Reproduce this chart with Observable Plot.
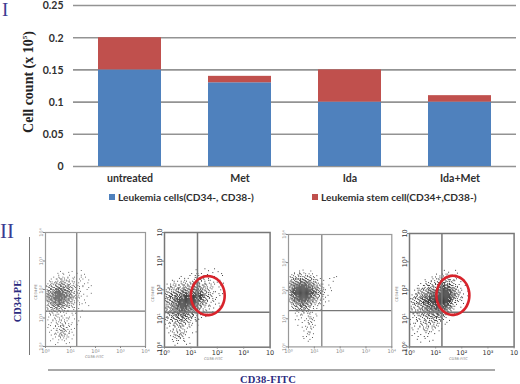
<!DOCTYPE html>
<html>
<head>
<meta charset="utf-8">
<script src="https://cdn.jsdelivr.net/npm/d3@7"></script>
<script src="https://cdn.jsdelivr.net/npm/@observablehq/plot@0.6"></script>
<style>
html,body{margin:0;padding:0;background:#fff}
#page{position:relative;width:520px;height:384px;overflow:hidden;background:#fff}
#page>*{position:absolute}
.t{white-space:nowrap;line-height:1}
.serif{font-family:"Liberation Serif",serif;color:#2b2b80}
.sans{font-family:Lato,"Open Sans",sans-serif;font-weight:700;color:#2f2f2f;font-size:10.2px}
.tiny{font-family:"DejaVu Sans",sans-serif;font-size:3.6px;color:#777}
</style>
</head>
<body>
<div id="page"></div>
<script>
const categories = ["untreated", "Met", "Ida", "Ida+Met"];
const leukemiaCells = [0.15, 0.13, 0.1, 0.1];
const stemCells = [0.05, 0.01, 0.05, 0.01];
const seriesNames = ["Leukemia cells(CD34-, CD38-)", "Leukemia stem cell(CD34+,CD38-)"];
const seriesColors = ["#4f81bd", "#c0504d"];
const yTicks = [0, 0.05, 0.1, 0.15, 0.2, 0.25];

// Flow-cytometry dot density: each row is 0.1 decade of CD34 (top = 2.8),
// each digit 0.1 decade of CD38 (left = 0), value = darkness 0-9. Drawn as a 3x3 halftone.
const density1 = ["00000000000000000000","00000010001000100000","00000102010010010000","00010201020100201000","00102132120201010100","01213243231201100100","12324354342211020010","23435665453212010100","24547876564221101000","35568987654312010010","36579998765322101000","35678987654231010000","24567876543212001000","23456765342201100100","12344543231201000000","12232322120100100000","11212111101010000000","01112121010100100000","01021212120100000000","10112121201001000000","01102132121010000000","01012123210100000000","00102134221000000000","01012233121000000000","00101232210100000000","00010121101000000000","00100101010000000000","00001000100000000000"];
const density2 = ["000000000000000100010000","000000000000100010001000","000000000010201010100100","000000100102110201010010","000101020101212121010100","000201212122321201101010","012132132233432312010100","123214243344543321201000","213243454465654321110100","324354566577675332101010","235465678889886432110100","324567889998765321210000","243568899989654321101000","324567998878543212010100","233567887667432101100000","324456776554321210100000","233455665443212010000000","123344554332101100000000","122334443221210000000000","012233332210100000000000","101222321210100000000000","010121211100000000000000","001212121000100000000000","010212321010000000000000","001123210100000000000000","000121120000000000000000","000101010100000000000000","000010001000000000000000"];
const density3 = ["00000100000000000000","00102010100000000000","01213121210100000000","12324232321010001110","23435454432201000100","24557676543211000000","35678987654321010000","36799999765422101000","37899999876432101000","36789999865332010000","25688999754321100000","24678987643221010000","13456765432120100000","12345654321101000000","01233443210110000000","01122322111000000000","00101211201000000000","00010101210100000000","00101012121000000000","00000101210000000000","00010010211000000000","00000102120000000000","00000011100000000000","00000001210000000000","00000101010000000000","00000010100000000000","00000001000000000000","00000000000000000000"];
const density4 = ["000000000000000000000000","000000000000010101000000","000000000010102010100000","000000001012121201010000","000000101212232312100000","000010212123343221010000","000102132234565432110100","000213243345787643210000","001232345567899754211010","012324456778999865321000","013245667889999864212010","122345678889999753211000","123345677889998642101000","212334566778887531100000","121234556677776421010000","212233455566654210000000","121223344455442101000000","012122333444321010000000","101212232332210100000000","011121322221101000000000","101021212211010000000000","010112121110100000000000","010101211101000000000000","001010110100000000000000","010101010000000000000000","000100100100000000000000","000010010000000000000000","000000000000000000000000"];

const decadeTicks = [0, 1, 2, 3, 4];
const decadeLabels = ["10\u2070", "10\u00b9", "10\u00b2", "10\u00b3", "10"];
const panelGates = [[1.25, 1.24], [1.25, 1.22], [1.29, 1.29], [1.24, 1.22]];
const panelBoxes = [[44.7, 232, 100, 114], [163.7, 232, 105.6, 114.7], [287.7, 234.3, 103.3, 112.4], [408.7, 233.3, 104.6, 113.4]];
const panelFaint = [true, false, true, false];
const panelDensity = [density1, density2, density3, density4];
const halftoneOrder = [4, 0, 8, 2, 6, 1, 7, 3, 5];
const panelInk = [0.7, 0.85, 0.8, 0.9];
const ellipses = [null, [1.64, 1.80, 0.64, 0.68], null, [1.66, 1.82, 0.63, 0.69]];

const page = document.getElementById("page");
function add(node, left, top) { node.style.left = left + "px"; node.style.top = top + "px"; page.appendChild(node); return node; }
function label(text, cls, left, top, css) {
  const d = document.createElement("div");
  d.className = "t " + cls; d.innerHTML = text; if (css) d.style.cssText = css;
  return add(d, left, top);
}
function bar(left, top, w, h, c) {
  const d = document.createElement("div");
  d.style.cssText = `width:${w}px;height:${h}px;background:${c}`;
  return add(d, left, top);
}

// Stacked bars over their gridlines
const barRows = categories.flatMap((c, i) => [
  {category: c, series: 0, value: leukemiaCells[i]},
  {category: c, series: 1, value: stemCells[i]}
]);
const barFont = {fontFamily: "Lato, 'Open Sans', sans-serif", fontWeight: 700, fill: "#2f2f2f"};
add(Plot.plot({
  width: 520, height: 210, marginLeft: 73, marginRight: 4, marginTop: 5, marginBottom: 44,
  style: {background: "transparent"},
  x: {domain: categories, paddingInner: 0.43, paddingOuter: 0.215, label: null},
  y: {domain: [0, 0.25], label: null},
  marks: [
    Plot.ruleY(yTicks, {stroke: "#939393", strokeWidth: 1.6}),
    Plot.barY(barRows, {x: "category", y: "value", z: "series", fill: d => seriesColors[d.series]}),
    Plot.axisY({ticks: yTicks, tickSize: 0, tickPadding: 10, tickFormat: d => String(d), label: null, fontSize: 10.5, dy: 0.5, ...barFont}),
    Plot.axisX({tickSize: 0, tickPadding: 8, label: null, fontSize: 10.6, ...barFont})
  ]
}), 0, 0);

// Flow cytometry panels
panelBoxes.forEach(([x0, y0, w, h], i) => {
  const [gx, gy] = panelGates[i];
  const cells = panelDensity[i].flatMap((row, r) => [...row].flatMap((ch, c) =>
    d3.range(+ch).map(k => {
      const s = halftoneOrder[(k + r * 7 + c * 4) % 9];
      const sx = s % 3, sy = Math.floor(s / 3);
      return {
        x1: (c + sx / 3) * 0.1, x2: (c + (sx + 1) / 3) * 0.1,
        y2: 2.8 - (r + sy / 3) * 0.1, y1: 2.8 - (r + (sy + 1) / 3) * 0.1
      };
    })));
  const faint = panelFaint[i];
  const tick = {fontFamily: "'DejaVu Sans', sans-serif", fontSize: faint ? 5 : 6.5, fill: faint ? "#888" : "#333"};
  const marks = [
    Plot.rect(cells, {x1: "x1", x2: "x2", y1: "y1", y2: "y2", fill: "#000", fillOpacity: panelInk[i], imageFilter: "blur(0.28px)"}),
    Plot.ruleX([gx], {stroke: "#777", strokeWidth: faint ? 1.2 : 1.5}),
    Plot.ruleY([gy], {stroke: "#777", strokeWidth: faint ? 1.2 : 1.5}),
    Plot.frame({stroke: faint ? "#999" : "#777", strokeWidth: faint ? 1.2 : 1.5}),
    Plot.axisX({ticks: decadeTicks, tickSize: 2, tickPadding: 1, label: null, stroke: "#888",
      tickFormat: d => faint && d === 4 ? "10\u2074" : decadeLabels[d], ...tick}),
    Plot.axisY({ticks: decadeTicks, tickSize: 2, tickPadding: 1, label: null, stroke: "#888", tickRotate: -90,
      tickFormat: d => faint && d === 4 ? "10\u2074" : decadeLabels[d], ...tick})
  ];
  if (ellipses[i]) {
    const [cx, cy, rx, ry] = ellipses[i];
    marks.push(Plot.line(d3.range(0, 49), {
      x: k => cx + rx * Math.cos(k / 48 * 2 * Math.PI),
      y: k => cy + ry * Math.sin(k / 48 * 2 * Math.PI),
      stroke: "#d8242c", strokeWidth: 2.6, curve: "catmull-rom-closed"
    }));
  }
  const mL = 14, mR = 10, mT = 6, mB = 14;
  add(Plot.plot({
    width: w + mL + mR, height: h + mT + mB,
    marginLeft: mL, marginRight: mR, marginTop: mT, marginBottom: mB,
    style: {background: "transparent", overflow: "visible"},
    x: {domain: [0, 4], label: null},
    y: {domain: [0, 4], label: null},
    marks
  }), x0 - mL, y0 - mT);
});

// Text and rules around the charts
label("Cell count (x 10<sup style='font-size:7px;line-height:0'>5</sup>)", "", 29, 82,
  "font:700 14px 'Liberation Serif',serif;color:#222;transform:translate(-50%,-50%) rotate(-90deg)");
label("I", "serif", 2, 0, "font-size:19px;color:#3b3b92");
label("II", "serif", 0, 221, "font-size:21px;color:#3b3b92");
label("CD34-PE", "serif", 18, 301, "font-size:10.5px;font-weight:700;transform:translate(-50%,-50%) rotate(-90deg)");
label("CD38-FITC", "serif", 240, 375, "font-size:10.5px;font-weight:700;letter-spacing:.2px");
bar(29.3, 237, 1, 118, "#777");
bar(48, 369, 447, 2, "#a8a8a8");
bar(109, 194, 6, 6, seriesColors[0]);
label(seriesNames[0], "sans", 118, 192);
bar(312, 194, 6, 6, seriesColors[1]);
label(seriesNames[1], "sans", 321, 192);
[[85, 355.5], [204, 358], [449, 358]].forEach(([x, y]) => label("CD38-FITC", "tiny", x, y));
[[37, 292], [154, 294], [398, 294]].forEach(([x, y]) =>
  label("CD34-PE", "tiny", x, y, "transform:translate(-50%,-50%) rotate(-90deg)"));
</script>
</body>
</html>
